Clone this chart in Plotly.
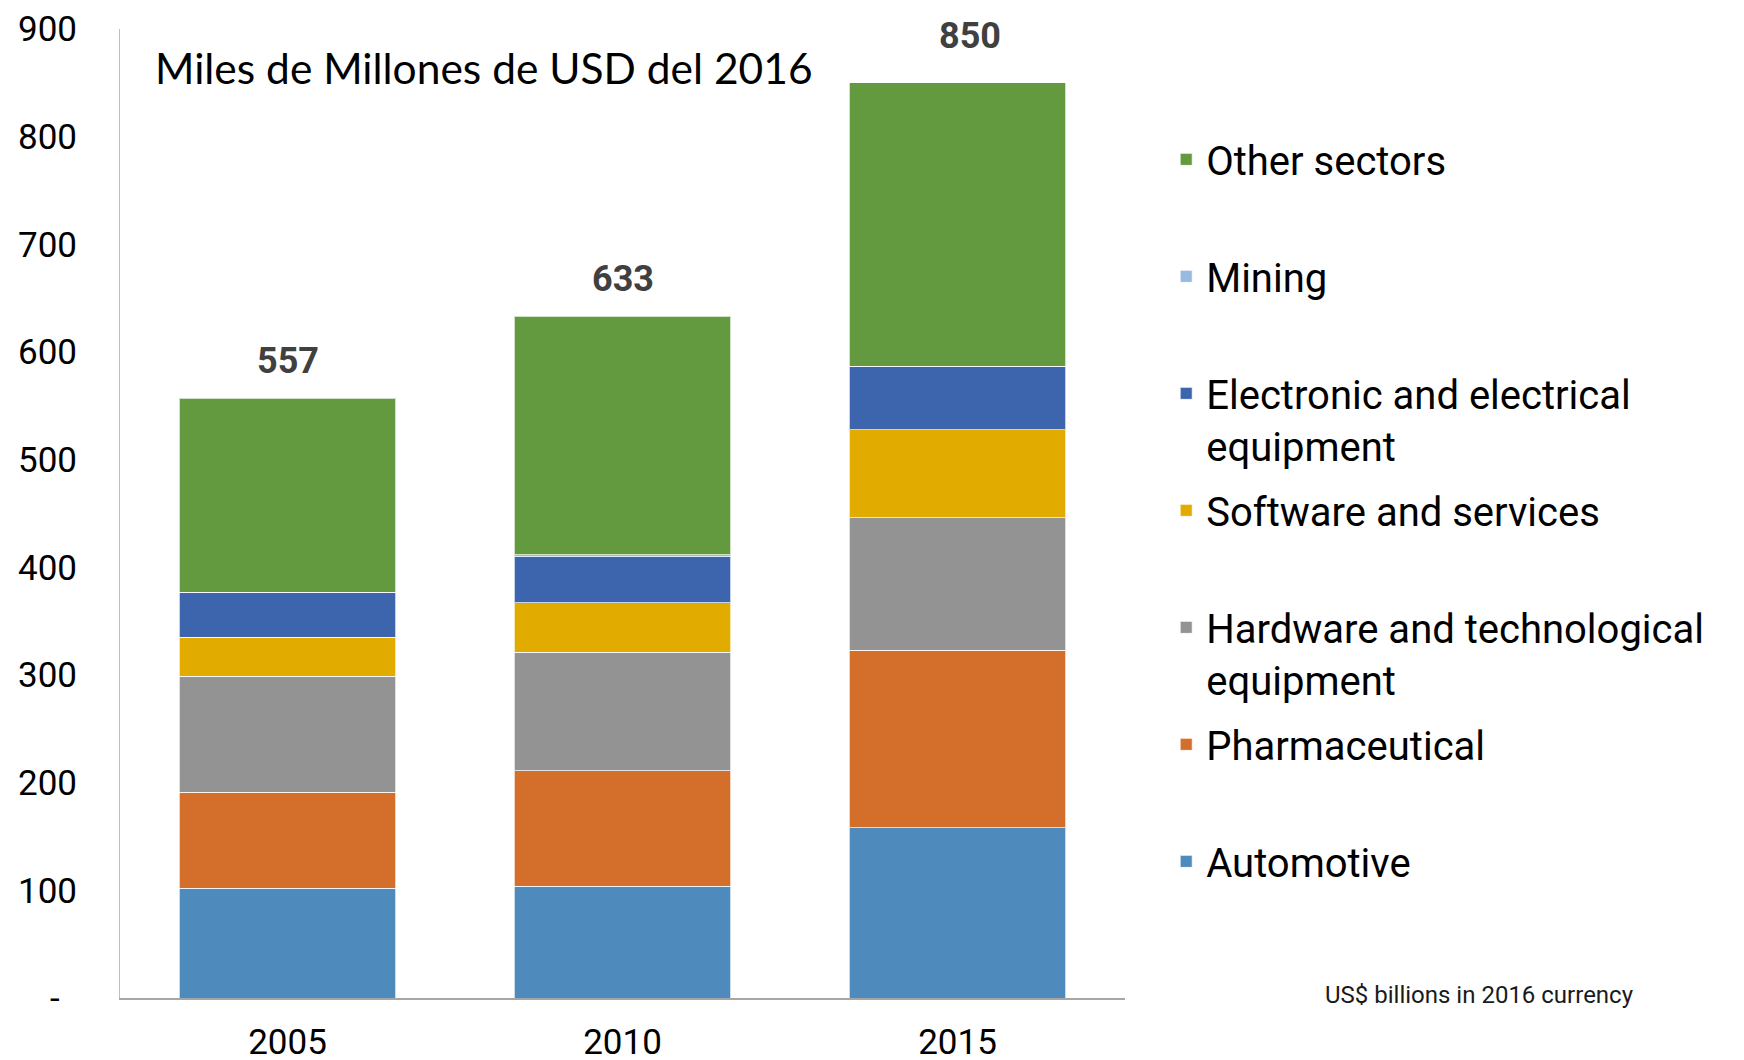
import plotly.graph_objects as go

years = ["2005", "2010", "2015"]
automotive = [102, 104, 158]
pharmaceutical = [89, 107, 165]
hardware = [108, 110, 123]
software = [36, 46, 82]
electronic = [42, 43, 59]
mining = [0, 1.5, 0]
other = [180, 221.5, 263]

series_names = ["Automotive", "Pharmaceutical", "Hardware and technological<br>equipment",
                "Software and services", "Electronic and electrical<br>equipment", "Mining", "Other sectors"]
series_values = [automotive, pharmaceutical, hardware, software, electronic, mining, other]
series_colors = ["#4F8ABD", "#D36E2B", "#939393", "#E1AB00", "#3D65AD", "#98BAE0", "#639A3F"]

yticks = [0, 100, 200, 300, 400, 500, 600, 700, 800, 900]
yticktext = ["-\u00a0\u00a0", "100", "200", "300", "400", "500", "600", "700", "800", "900"]

totals = [round(sum(v[i] for v in series_values)) for i in range(len(years))]

fig = go.Figure()
n = len(series_names)
for i, (name, vals, col) in enumerate(zip(series_names, series_values, series_colors)):
    label = name if "<br>" in name else name + "<br>\u00a0"
    fig.add_trace(go.Bar(
        x=years, y=vals, name=label, legendgroup="g%d" % i, legendrank=n - i,
        marker=dict(color=col, line=dict(color="rgba(255,255,255,0.7)", width=1)),
    ))

# category axis: annotations use the category serial number
label_offsets = {2: (12, 10)}  # small nudge of the last total label, as in the original
for idx, tot in enumerate(totals):
    dx, dy = label_offsets.get(idx, (0, 0))
    fig.add_annotation(x=idx, y=tot, text=f"<b>{tot}</b>", showarrow=False,
                       yanchor="bottom", yshift=14 + dy, xshift=dx,
                       font=dict(family="Roboto", size=36, color="#404040"))

fig.add_annotation(xref="paper", yref="paper", x=0.362, y=0.96, xanchor="center", yanchor="middle",
                   text="Miles de Millones de USD del 2016", showarrow=False,
                   font=dict(family="Lato", size=42.5, color="#000000"))

fig.add_annotation(xref="paper", yref="paper", x=1.353, y=0.003, xanchor="center", yanchor="middle",
                   text="US$ billions in 2016 currency", showarrow=False,
                   font=dict(family="Roboto", size=24, color="#1a1a1a"))

fig.update_layout(
    width=1736, height=1052,
    margin=dict(l=112, r=619, t=21, b=62, autoexpand=False),
    paper_bgcolor="white", plot_bgcolor="white",
    barmode="stack", bargap=0.355,
    font=dict(family="Roboto", color="#000000"),
    legend=dict(
        x=1.041, y=0.899, xanchor="left", yanchor="top",
        traceorder="grouped", tracegroupgap=10, valign="top",
        font=dict(family="Roboto", size=40, color="#000000"),
        bgcolor="rgba(0,0,0,0)",
    ),
    xaxis=dict(
        type="category", categoryorder="array", categoryarray=years,
        range=[-0.5, len(years) - 0.5], automargin=False,
        showline=True, linecolor="#A6A6A6", linewidth=2, showgrid=False,
        ticks="outside", ticklen=12, tickcolor="rgba(0,0,0,0)",
        tickfont=dict(family="Roboto", size=35, color="#000000"),
    ),
    yaxis=dict(
        automargin=False,
        range=[0, 900], tickvals=yticks, ticktext=yticktext,
        showline=True, linecolor="#BFBFBF", linewidth=1, showgrid=False, zeroline=False,
        ticks="", tickfont=dict(family="Roboto", size=35, color="#000000"),
        ticklabelstandoff=35,
    ),
)

fig.write_html("out.html")
